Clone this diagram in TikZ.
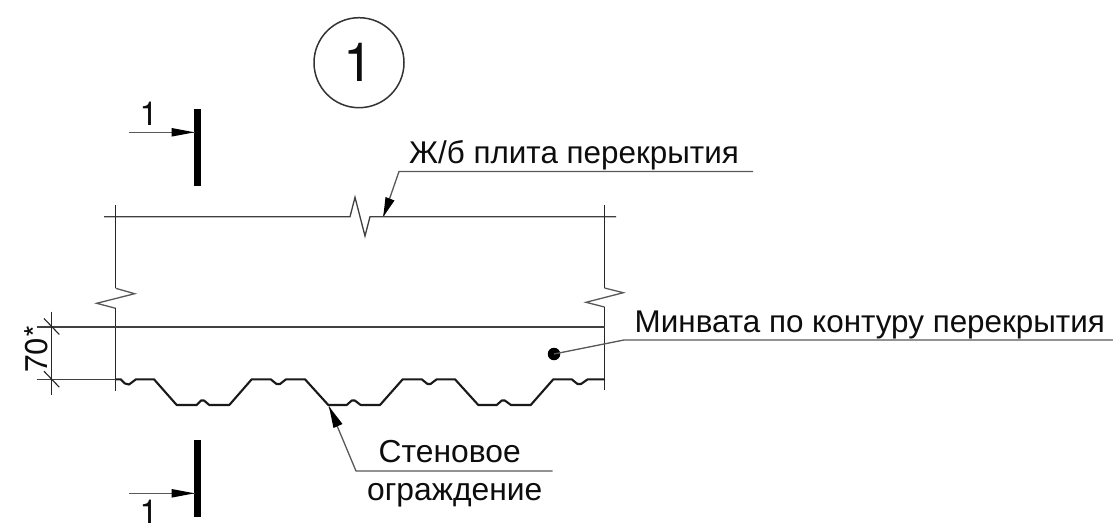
\documentclass[tikz,border=0pt]{standalone}
\usepackage{fontspec}
\setmainfont{Liberation Sans}
\newfontfamily\numfont{TeX Gyre Heros}
\begin{document}
\begin{tikzpicture}[x=1pt,y=-1pt,
  thin line/.style={line width=1.1pt,draw=black!85},
  med line/.style={line width=1.6pt,draw=black!75},
  prof line/.style={line width=2.1pt,draw=black!90,line join=bevel},
  lead/.style={line width=1.3pt,draw=black!65},
  thick bar/.style={fill=black,draw=none,minimum width=6.5pt,inner sep=0pt},
  txt/.style={font=\fontsize{31.4}{34}\selectfont,inner sep=0pt,anchor=base west,text=black!95},
  wall/.style={txt,font=\fontsize{31.8}{34}\selectfont},
  num/.style={txt,font=\numfont\fontsize{33}{36}\selectfont},
  tiphead/.style={fill=black,draw=none}]
\useasboundingbox (0,0) rectangle (1113,525);
\fill[white] (0,0) rectangle (1113,525);
% detail circle
\node[draw=black!80,line width=1.5pt,circle,minimum size=90pt,inner sep=0pt] (detail) at (359,62.7) {};
\node[font=\numfont\fontsize{54}{58}\selectfont,inner sep=0pt,anchor=base,text=black!95] (detailnum) at (359,81.7) {1};
% section marks
\node[thick bar,minimum height=76.5pt] (barT) at (197.5,147.5) {};
\node[thick bar,minimum height=76.5pt] (barB) at (197.5,478.3) {};
\coordinate (secT) at (129,132.3);
\coordinate (secB) at (129,493.3);
\coordinate (tipT) at (194.5,132.3);
\coordinate (tipB) at (194.5,493.3);
\draw[lead] (secT) -- (tipT);
\draw[lead] (secB) -- (tipB);
\fill[tiphead] (tipT) -- (171.7,128) -- (171.7,136.6) -- cycle;
\fill[tiphead] (tipB) -- (171.7,489) -- (171.7,497.6) -- cycle;
\node[num] (numT) at (139.5,125) {1};
\node[num] (numB) at (139.5,523.5) {1};
% slab with break
\draw[med line,line width=1.3pt] (104,216.7) -- (350,216.7) -- (355,197.3) -- (365,236) -- (370,216.7) -- (616,216.7);
% edge lines with breaks
\draw[thin line] (115.7,205) -- (115.7,288.3);
\draw[lead] (115.7,288.3) -- (134.7,293.7) -- (96.7,303.3) -- (115.7,308.3);
\draw[thin line] (115.7,308.3) -- (115.7,391);
\draw[thin line] (604.5,205) -- (604.5,288);
\draw[lead] (604.5,288) -- (623.3,292.7) -- (586,302.3) -- (604.5,307);
\draw[thin line] (604.5,307) -- (604.5,390);
% top insulation line
\draw[med line,line width=2pt] (36.7,326.7) -- (604.5,326.7);
% profile
\draw[med line] (36.7,379.3) -- (115.7,379.3);
\draw[prof line] (115.7,379.3) -- (120.7,379.3) -- (125,383.5) -- (129,384.5) -- (136,379.3) -- (154,379.3)
  -- (176.7,405) -- (196.7,405) -- (201,400.5) -- (204,400.5) -- (209.3,405) -- (229.3,405)
  -- (251.7,379.3) -- (270.7,379.3) -- (276.5,384) -- (280,384) -- (286,379.3) -- (305,379.3)
  -- (328.3,405) -- (346.7,405) -- (351.8,400.5) -- (354.8,400.5) -- (360.7,405) -- (380,405)
  -- (402.7,379.3) -- (421.7,379.3) -- (427.5,384) -- (430.5,384) -- (436.7,379.3) -- (455,379.3)
  -- (478.3,405) -- (496.7,405) -- (501.8,400.5) -- (504.8,400.5) -- (511,405) -- (530.7,405)
  -- (553.3,379.3) -- (571.7,379.3) -- (577.5,384) -- (581,384) -- (587.7,379.3) -- (604.5,379.3);
% dimension
\draw[thin line] (51.7,311.7) -- (51.7,395);
\draw[thin line] (44,318.5) -- (59.3,334.5);
\draw[thin line] (44,371.2) -- (59.3,387.2);
\node[txt,font=\numfont\fontsize{31.4}{34}\selectfont,rotate=90] (dim) at (47,373) {70*};
% leaders
\node[txt] (slabT) at (409,163.5) {Ж/б плита перекрытия};
\coordinate (slabTip) at (383.3,216.7);
\coordinate (slabKnee) at (399,171.5);
\coordinate (slabEnd) at (753,171.5);
\draw[lead] (slabEnd) -- (slabKnee) -- (slabTip);
\fill[tiphead] (slabTip) -- (385.5,197) -- (394.5,200.5) -- cycle;
\node[txt] (minT) at (634.5,332.5) {Минвата по контуру перекрытия};
\node[circle,fill=black,minimum size=12.5pt,inner sep=0pt] (dot) at (554,354) {};
\coordinate (minKnee) at (624,340);
\coordinate (minEnd) at (1113,340);
\draw[lead] (dot.center) -- (minKnee) -- (minEnd);
\node[wall] (wallA) at (378.5,462.7) {Стеновое};
\node[wall] (wallB) at (367,500) {ограждение};
\coordinate (wallTip) at (329,406.5);
\coordinate (wallKnee) at (356,471);
\coordinate (wallEnd) at (552.7,471);
\draw[lead] (wallEnd) -- (wallKnee) -- (wallTip);
\fill[tiphead] (wallTip) -- (333.5,428) -- (342.5,424) -- cycle;
\end{tikzpicture}
\end{document}
